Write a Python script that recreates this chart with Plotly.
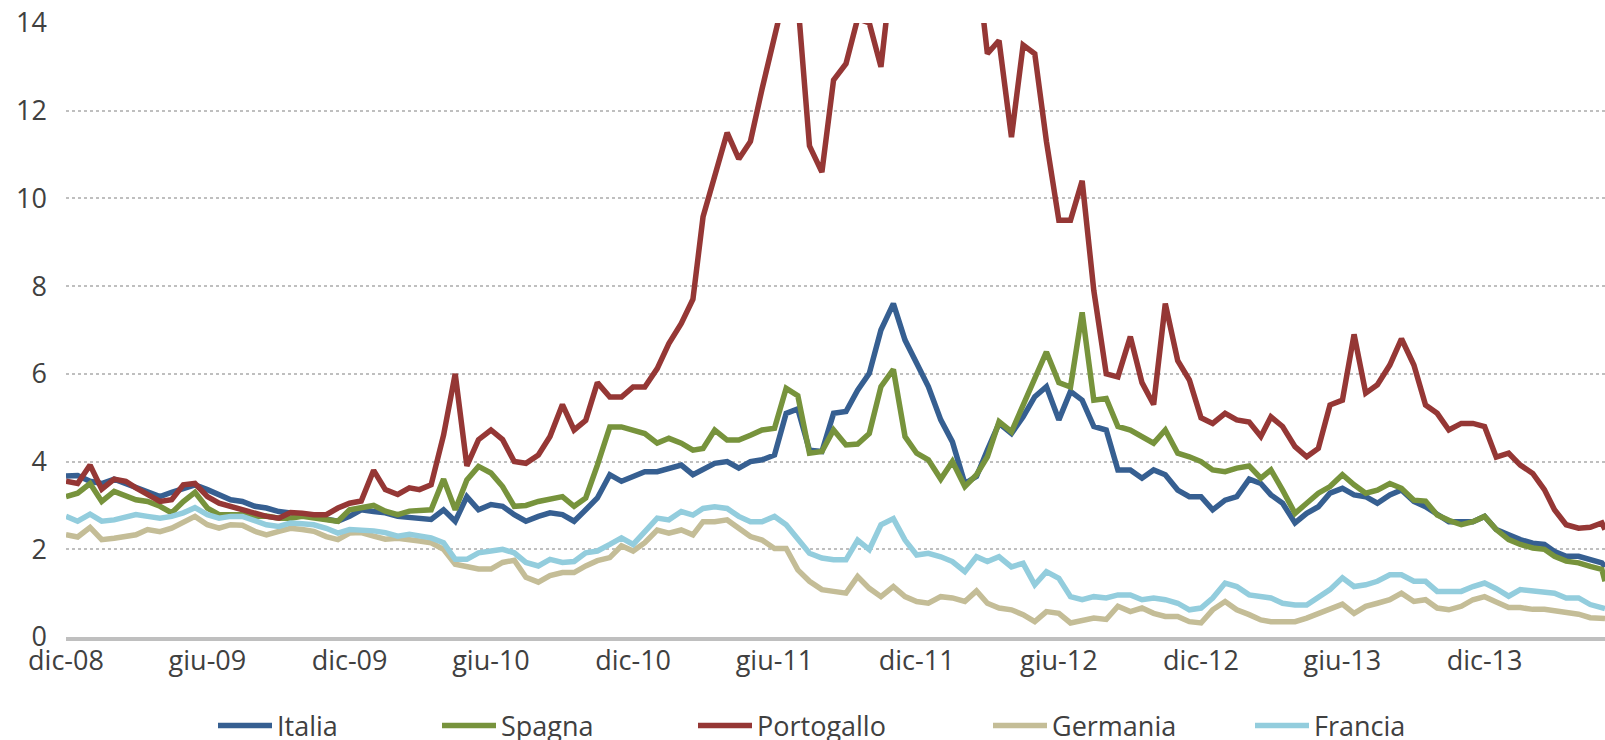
import plotly.graph_objects as go

# date axis: 1st and 16th of each month, dic-08 .. mag-14
dates = []
for year in range(2008, 2015):
    for month in range(1, 13):
        if (year, month) < (2008, 12) or (year, month) > (2014, 5):
            continue
        dates.append(f"{year}-{month:02d}-01")
        if (year, month) != (2014, 5):
            dates.append(f"{year}-{month:02d}-16")
dates.append("2014-05-05")

tick_dates = ["2008-12-01", "2009-06-01", "2009-12-01", "2010-06-01", "2010-12-01", "2011-06-01",
              "2011-12-01", "2012-06-01", "2012-12-01", "2013-06-01", "2013-12-01"]
tick_labels = ["dic-08", "giu-09", "dic-09", "giu-10", "dic-10", "giu-11",
               "dic-11", "giu-12", "dic-12", "giu-13", "dic-13"]

italia = [3.67, 3.68, 3.55, 3.50, 3.60, 3.50, 3.40, 3.33, 3.20, 3.30,
          3.40, 3.47, 3.36, 3.24, 3.13, 3.09, 2.98, 2.94, 2.86, 2.83,
          2.79, 2.75, 2.71, 2.64, 2.75, 2.90, 2.86, 2.83, 2.75, 2.72,
          2.72, 2.68, 2.90, 2.64, 3.20, 2.90, 3.02, 2.98, 2.79, 2.64,
          2.75, 2.83, 2.79, 2.64, 2.90, 3.17, 3.70, 3.55, 3.66, 3.77,
          3.77, 3.85, 3.92, 3.70, 3.81, 3.96, 4.00, 3.85, 4.00, 4.04,
          4.15, 5.10, 5.20, 4.26, 4.23, 5.10, 5.14, 5.63, 6.01, 7.00,
          7.60, 6.77, 6.24, 5.71, 4.95, 4.45, 3.50, 3.66, 4.26, 4.87,
          4.64, 5.02, 5.48, 5.71, 4.95, 5.60, 5.40, 4.80, 4.72, 3.81,
          3.81, 3.62, 3.81, 3.70, 3.35, 3.20, 3.20, 2.90, 3.12, 3.20,
          3.60, 3.50, 3.24, 3.05, 2.60, 2.82, 2.97, 3.28, 3.39, 3.24,
          3.20, 3.05, 3.24, 3.35, 3.09, 2.97, 2.80, 2.63, 2.63, 2.63,
          2.75, 2.45, 2.33, 2.22, 2.14, 2.11, 1.95, 1.84, 1.84, 1.77, 1.69,
          1.60]

spagna = [3.20, 3.28, 3.50, 3.09, 3.32, 3.20, 3.13, 3.09, 2.98, 2.83,
          3.09, 3.30, 2.94, 2.79, 2.80, 2.79, 2.75, 2.76, 2.71, 2.71,
          2.75, 2.71, 2.67, 2.64, 2.90, 2.94, 3.00, 2.87, 2.79, 2.87,
          2.87, 2.90, 3.60, 2.90, 3.58, 3.89, 3.74, 3.43, 2.98, 3.00,
          3.09, 3.13, 3.20, 2.98, 3.17, 3.92, 4.79, 4.79, 4.72, 4.64,
          4.42, 4.53, 4.42, 4.26, 4.30, 4.72, 4.49, 4.49, 4.60, 4.72,
          4.76, 5.67, 5.50, 4.19, 4.23, 4.72, 4.38, 4.40, 4.64, 5.71,
          6.10, 4.57, 4.19, 4.04, 3.60, 4.00, 3.43, 3.70, 4.11, 4.91,
          4.68, 5.30, 5.90, 6.50, 5.80, 5.70, 7.40, 5.40, 5.44, 4.80,
          4.72, 4.57, 4.42, 4.72, 4.19, 4.11, 4.00, 3.81, 3.77, 3.85,
          3.90, 3.62, 3.81, 3.35, 2.82, 3.05, 3.28, 3.43, 3.70, 3.47,
          3.28, 3.35, 3.50, 3.39, 3.12, 3.10, 2.78, 2.66, 2.56, 2.63,
          2.75, 2.45, 2.22, 2.11, 2.03, 2.00, 1.84, 1.73, 1.69, 1.61, 1.54,
          1.27]

portogallo = [3.55, 3.50, 3.92, 3.37, 3.60, 3.55, 3.40, 3.26, 3.09, 3.13,
              3.47, 3.50, 3.20, 3.05, 2.98, 2.90, 2.83, 2.75, 2.71, 2.84,
              2.82, 2.79, 2.79, 2.94, 3.05, 3.10, 3.80, 3.36, 3.25, 3.40,
              3.36, 3.47, 4.60, 6.00, 3.90, 4.50, 4.72, 4.50, 4.00, 3.96,
              4.15, 4.57, 5.30, 4.72, 4.94, 5.80, 5.47, 5.47, 5.70, 5.70,
              6.12, 6.69, 7.15, 7.70, 9.58, 10.50, 11.50, 10.90, 11.30, 12.50,
              13.80, 14.80, 14.50, 11.20, 10.60, 12.70, 13.07, 14.10, 14.00, 13.00,
              15.50, 17.00, 18.50, 19.50, 20.50, 19.00, 17.50, 15.50, 13.30, 13.60,
              11.40, 13.50, 13.30, 11.30, 9.50, 9.50, 10.40, 7.90, 6.00, 5.93,
              6.85, 5.80, 5.30, 7.60, 6.30, 5.86, 5.00, 4.87, 5.10, 4.95,
              4.90, 4.57, 5.02, 4.80, 4.34, 4.11, 4.30, 5.29, 5.40, 6.90,
              5.56, 5.75, 6.20, 6.80, 6.20, 5.29, 5.10, 4.72, 4.87, 4.87,
              4.80, 4.10, 4.19, 3.92, 3.73, 3.36, 2.90, 2.56, 2.48, 2.50, 2.60,
              2.45]

germania = [2.33, 2.28, 2.50, 2.22, 2.25, 2.29, 2.33, 2.45, 2.40, 2.48,
            2.60, 2.75, 2.56, 2.48, 2.56, 2.55, 2.41, 2.33, 2.41, 2.48,
            2.45, 2.41, 2.29, 2.22, 2.37, 2.38, 2.30, 2.23, 2.25, 2.23,
            2.19, 2.15, 2.00, 1.66, 1.62, 1.55, 1.55, 1.70, 1.75, 1.36,
            1.25, 1.40, 1.47, 1.47, 1.62, 1.74, 1.81, 2.08, 1.96, 2.15,
            2.44, 2.37, 2.44, 2.33, 2.63, 2.63, 2.67, 2.48, 2.29, 2.21,
            2.02, 2.02, 1.53, 1.27, 1.08, 1.04, 1.00, 1.38, 1.11, 0.92,
            1.15, 0.92, 0.81, 0.77, 0.92, 0.89, 0.81, 1.05, 0.77, 0.66,
            0.62, 0.51, 0.35, 0.58, 0.54, 0.32, 0.39, 0.43, 0.40, 0.70,
            0.58, 0.66, 0.54, 0.47, 0.47, 0.35, 0.32, 0.62, 0.81, 0.62,
            0.51, 0.39, 0.35, 0.35, 0.35, 0.43, 0.54, 0.66, 0.75, 0.54,
            0.70, 0.77, 0.85, 1.00, 0.81, 0.85, 0.66, 0.62, 0.70, 0.85,
            0.92, 0.80, 0.67, 0.67, 0.63, 0.63, 0.59, 0.55, 0.52, 0.44, 0.40,
            0.42]

francia = [2.75, 2.64, 2.80, 2.64, 2.67, 2.75, 2.79, 2.75, 2.71, 2.75,
           2.83, 2.95, 2.79, 2.71, 2.75, 2.75, 2.64, 2.56, 2.52, 2.60,
           2.58, 2.56, 2.48, 2.37, 2.45, 2.45, 2.42, 2.38, 2.30, 2.34,
           2.30, 2.26, 2.15, 1.77, 1.77, 1.92, 1.96, 2.00, 1.92, 1.70,
           1.62, 1.77, 1.70, 1.72, 1.92, 1.96, 2.11, 2.26, 2.11, 2.40,
           2.71, 2.67, 2.86, 2.78, 2.93, 2.97, 2.93, 2.75, 2.63, 2.63,
           2.75, 2.56, 2.25, 1.91, 1.80, 1.76, 1.76, 2.21, 1.99, 2.56,
           2.70, 2.21, 1.87, 1.91, 1.83, 1.72, 1.49, 1.83, 1.72, 1.83,
           1.60, 1.68, 1.19, 1.49, 1.34, 0.92, 0.85, 0.92, 0.89, 0.96,
           0.96, 0.85, 0.89, 0.85, 0.77, 0.62, 0.66, 0.89, 1.23, 1.15,
           0.96, 0.92, 0.89, 0.77, 0.73, 0.73, 0.92, 1.08, 1.35, 1.15,
           1.19, 1.27, 1.42, 1.42, 1.27, 1.27, 1.04, 1.04, 1.04, 1.15,
           1.23, 1.10, 0.93, 1.08, 1.05, 1.05, 1.00, 0.89, 0.89, 0.74, 0.67,
           0.65]

series = [
    ("Italia", italia, "#365F91", 213),
    ("Spagna", spagna, "#77933C", 437),
    ("Portogallo", portogallo, "#953735", 693),
    ("Germania", germania, "#C4BD97", 988),
    ("Francia", francia, "#93CDDD", 1250),
]

W, H = 1605, 740
text_col = "#404040"
font = dict(family="Open Sans", size=27, color=text_col)

fig = go.Figure()
layout_legends = {}
for i, (name, vals, col, lx) in enumerate(series):
    key = "legend" if i == 0 else f"legend{i + 1}"
    fig.add_trace(go.Scatter(x=dates, y=vals, name=name, mode="lines",
                             line=dict(color=col, width=5.5), legend=key))
    layout_legends[key] = dict(x=lx / W, xref="container", xanchor="left",
                               y=1 - 726 / H, yref="container", yanchor="middle",
                               orientation="h", font=font, itemwidth=54,
                               bgcolor="rgba(0,0,0,0)", borderwidth=0)

fig.update_layout(
    width=W, height=H,
    margin=dict(l=66, r=0, t=23, b=103),
    plot_bgcolor="white", paper_bgcolor="white",
    font=font,
    showlegend=True,
    **layout_legends)

fig.update_xaxes(type="date", range=[dates[0], dates[-1]],
                 tickvals=tick_dates, ticktext=tick_labels,
                 showgrid=False, zeroline=False,
                 showline=True, linecolor="#BFBFBF", linewidth=4,
                 ticks="", ticklabelstandoff=-3,
                 tickfont=font)
fig.update_yaxes(range=[0, 14], dtick=2, showgrid=True,
                 gridcolor="#BFBFBF", griddash="dot", gridwidth=1.5,
                 zeroline=False, showline=False,
                 ticklabelstandoff=18, tickfont=font)

# page margin off so the 1605x740 figure sits at the window origin
fig.write_html("out.html", config={"displayModeBar": False},
               post_script="document.body.style.margin='0';document.body.style.overflow='hidden';")
